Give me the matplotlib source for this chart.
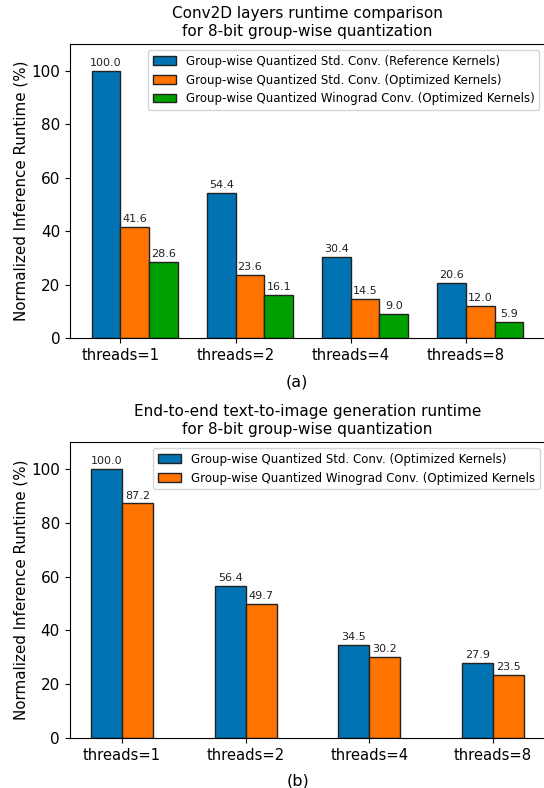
"""
two panel bar chart: conv2d runtime and end-to-end runtime for 8-bit group-wise quantization
"""
import numpy as np
import matplotlib
matplotlib.use('Agg')
import matplotlib.pyplot as plt

#categories shared by both panels
threads = ['threads=1', 'threads=2', 'threads=4', 'threads=8']

#panel (a) values
conv_ref_std = [100.0, 54.4, 30.4, 20.6]
conv_opt_std = [41.6, 23.6, 14.5, 12.0]
conv_opt_wino = [28.6, 16.1, 9.0, 5.9]

#panel (b) values
e2e_opt_std = [100.0, 56.4, 34.5, 27.9]
e2e_opt_wino = [87.2, 49.7, 30.2, 23.5]

blue = '#0173b2'
orange = '#ff7400'
green = '#00a000'

w = 0.25
x = np.arange(len(threads))

fig = plt.figure(figsize=(5.44, 7.88), dpi=100)


def style_axis(ax, title):
    """common axis setup for both panels"""
    ax.set_ylim(0, 110)
    ax.set_xticks(x)
    ax.set_xticklabels(threads, fontsize=10.6)
    ax.set_yticks([0, 20, 40, 60, 80, 100])
    ax.tick_params(axis='y', labelsize=11)
    ax.set_ylabel('Normalized Inference Runtime (%)', fontsize=10.9, labelpad=2)
    ax.set_title(title, fontsize=11)
    ax.legend(loc='upper right', fontsize=8.5)


#top panel
ax1 = fig.add_axes([70/544, 1-338/788, 475/544, 294/788])
b1 = ax1.bar(x - w/2, conv_ref_std, w, color=blue, edgecolor='#222222', linewidth=1,
             label='Group-wise Quantized Std. Conv. (Reference Kernels)')
b2 = ax1.bar(x + w/2, conv_opt_std, w, color=orange, edgecolor='#222222', linewidth=1,
             label='Group-wise Quantized Std. Conv. (Optimized Kernels)')
b3 = ax1.bar(x + 3*w/2, conv_opt_wino, w, color=green, edgecolor='#222222', linewidth=1,
             label='Group-wise Quantized Winograd Conv. (Optimized Kernels)')
for b in [b1, b2, b3]:
    ax1.bar_label(b, fmt='%.1f', padding=2, fontsize=8, color='#222222')
style_axis(ax1, 'Conv2D layers runtime comparison\nfor 8-bit group-wise quantization')

#bottom panel
ax2 = fig.add_axes([69.5/544, 1-738/788, 476/544, 296/788])
c1 = ax2.bar(x - w/2, e2e_opt_std, w, color=blue, edgecolor='#222222', linewidth=1,
             label='Group-wise Quantized Std. Conv. (Optimized Kernels)')
c2 = ax2.bar(x + w/2, e2e_opt_wino, w, color=orange, edgecolor='#222222', linewidth=1,
             label='Group-wise Quantized Winograd Conv. (Optimized Kernels')
for c in [c1, c2]:
    ax2.bar_label(c, fmt='%.1f', padding=2, fontsize=8, color='#222222')
style_axis(ax2, 'End-to-end text-to-image generation runtime\nfor 8-bit group-wise quantization')

#panel captions
fig.text(297/544, 1-382/788, '(a)', ha='center', va='center', fontsize=11.5)
fig.text(298/544, 1-781/788, '(b)', ha='center', va='center', fontsize=11.5)

fig.savefig('out.png', dpi=100)
